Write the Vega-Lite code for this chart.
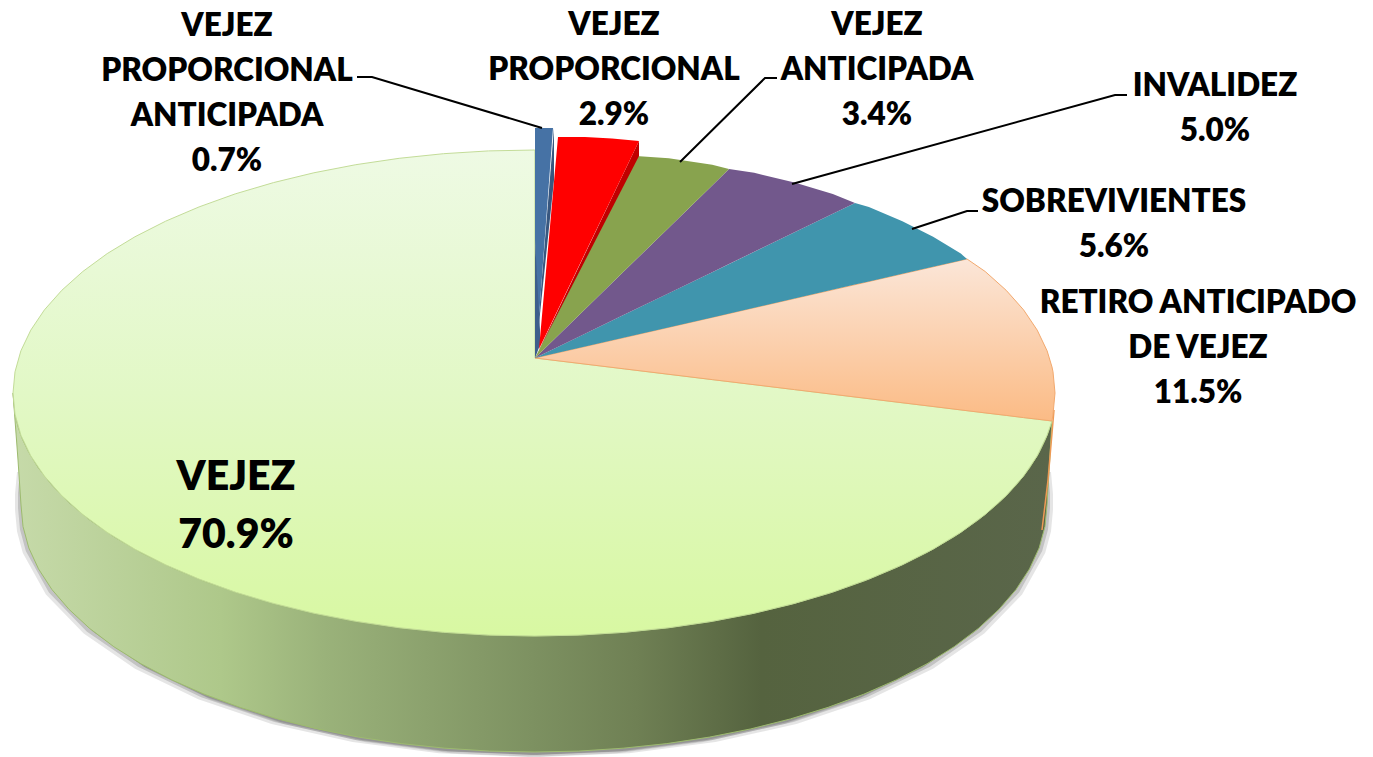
{"$schema":"https://vega.github.io/schema/vega-lite/v6.json","width":1373,"height":757,"padding":0,"autosize":{"type":"none"},"background":"white","config":{"view":{"stroke":null}},
"datasets":{"outline":[
{"slice":"shadow","x":21,"y":490,"y2":505},{"slice":"shadow","x":23,"y":468,"y2":526.5},{"slice":"shadow","x":28.8,"y":468,"y2":547.9},{"slice":"shadow","x":51.9,"y":470,"y2":589.5},{"slice":"shadow","x":89.7,"y":470,"y2":628.5},{"slice":"shadow","x":141,"y":470,"y2":663.8},{"slice":"shadow","x":204.2,"y":470,"y2":694.2},{"slice":"shadow","x":277.5,"y":470,"y2":718.9},{"slice":"shadow","x":358.5,"y":470,"y2":737.1},{"slice":"shadow","x":444.9,"y":470,"y2":748.2},{"slice":"shadow","x":534,"y":470,"y2":752},{"slice":"shadow","x":623.1,"y":470,"y2":748.2},{"slice":"shadow","x":709.5,"y":470,"y2":737.1},{"slice":"shadow","x":790.5,"y":470,"y2":718.9},{"slice":"shadow","x":863.8,"y":470,"y2":694.2},{"slice":"shadow","x":927,"y":470,"y2":663.8},{"slice":"shadow","x":978.3,"y":470,"y2":628.5},{"slice":"shadow","x":1016.1,"y":470,"y2":589.5},{"slice":"shadow","x":1039.2,"y":468,"y2":547.9},{"slice":"shadow","x":1045,"y":468,"y2":526.5},{"slice":"shadow","x":1047,"y":490,"y2":505},
{"slice":"side","x":13,"y":393,"y2":393},{"slice":"side","x":15,"y":414,"y2":420},{"slice":"side","x":18,"y":426.6,"y2":460},{"slice":"side","x":21,"y":435.5,"y2":505},{"slice":"side","x":23,"y":440.4,"y2":526.5},{"slice":"side","x":28.8,"y":452.4,"y2":547.9},{"slice":"side","x":38.5,"y":468.1,"y2":568.9},{"slice":"side","x":51.9,"y":485.1,"y2":589.5},{"slice":"side","x":69.1,"y":502.7,"y2":609.4},{"slice":"side","x":89.7,"y":519.9,"y2":628.5},{"slice":"side","x":113.8,"y":536.7,"y2":646.7},{"slice":"side","x":141,"y":552.5,"y2":663.8},{"slice":"side","x":171.3,"y":567.4,"y2":679.7},{"slice":"side","x":204.2,"y":581.1,"y2":694.2},{"slice":"side","x":239.8,"y":593.5,"y2":707.3},{"slice":"side","x":277.5,"y":604.5,"y2":718.9},{"slice":"side","x":317.2,"y":614,"y2":728.9},{"slice":"side","x":358.5,"y":621.8,"y2":737.1},{"slice":"side","x":401.2,"y":628,"y2":743.6},{"slice":"side","x":444.9,"y":632.4,"y2":748.2},{"slice":"side","x":489.3,"y":635.1,"y2":751.1},{"slice":"side","x":534,"y":636,"y2":752},{"slice":"side","x":578.7,"y":635.1,"y2":751.1},{"slice":"side","x":623.1,"y":632.4,"y2":748.2},{"slice":"side","x":666.8,"y":628,"y2":743.6},{"slice":"side","x":709.5,"y":621.8,"y2":737.1},{"slice":"side","x":750.8,"y":614,"y2":728.9},{"slice":"side","x":790.5,"y":604.5,"y2":718.9},{"slice":"side","x":828.2,"y":593.5,"y2":707.3},{"slice":"side","x":863.8,"y":581.1,"y2":694.2},{"slice":"side","x":896.7,"y":567.4,"y2":679.7},{"slice":"side","x":927,"y":552.5,"y2":663.8},{"slice":"side","x":954.2,"y":536.7,"y2":646.7},{"slice":"side","x":978.3,"y":519.9,"y2":628.5},{"slice":"side","x":998.9,"y":502.7,"y2":609.4},{"slice":"side","x":1016.1,"y":485.1,"y2":589.5},{"slice":"side","x":1029.5,"y":468.1,"y2":568.9},{"slice":"side","x":1039.2,"y":452.4,"y2":547.9},{"slice":"side","x":1045,"y":440.4,"y2":526.5},{"slice":"side","x":1047,"y":435.5,"y2":505},{"slice":"side","x":1052,"y":421,"y2":421},
{"slice":"VEJEZ","x":13,"y":393,"y2":393},{"slice":"VEJEZ","x":15,"y":371.8,"y2":414.2},{"slice":"VEJEZ","x":20.9,"y":350.8,"y2":435.2},{"slice":"VEJEZ","x":30.8,"y":330.1,"y2":455.9},{"slice":"VEJEZ","x":44.4,"y":309.9,"y2":476.1},{"slice":"VEJEZ","x":61.8,"y":290.3,"y2":495.7},{"slice":"VEJEZ","x":82.8,"y":271.5,"y2":514.5},{"slice":"VEJEZ","x":107.2,"y":253.6,"y2":532.4},{"slice":"VEJEZ","x":134.9,"y":236.8,"y2":549.2},{"slice":"VEJEZ","x":165.6,"y":221.2,"y2":564.8},{"slice":"VEJEZ","x":199.1,"y":206.9,"y2":579.1},{"slice":"VEJEZ","x":235.2,"y":193.9,"y2":592.1},{"slice":"VEJEZ","x":273.5,"y":182.6,"y2":603.4},{"slice":"VEJEZ","x":313.8,"y":172.8,"y2":613.2},{"slice":"VEJEZ","x":355.8,"y":164.7,"y2":621.3},{"slice":"VEJEZ","x":399.2,"y":158.3,"y2":627.7},{"slice":"VEJEZ","x":443.5,"y":153.7,"y2":632.3},{"slice":"VEJEZ","x":488.6,"y":150.9,"y2":635.1},{"slice":"VEJEZ","x":534.9,"y":150,"y2":636},{"slice":"VEJEZ","x":535,"y":358,"y2":636},{"slice":"VEJEZ","x":579.4,"y":363.4,"y2":635.1},{"slice":"VEJEZ","x":624.5,"y":368.9,"y2":632.3},{"slice":"VEJEZ","x":668.8,"y":374.3,"y2":627.7},{"slice":"VEJEZ","x":712.2,"y":379.6,"y2":621.3},{"slice":"VEJEZ","x":754.2,"y":384.7,"y2":613.2},{"slice":"VEJEZ","x":794.5,"y":389.6,"y2":603.4},{"slice":"VEJEZ","x":832.8,"y":394.3,"y2":592.1},{"slice":"VEJEZ","x":868.9,"y":398.7,"y2":579.1},{"slice":"VEJEZ","x":902.4,"y":402.8,"y2":564.8},{"slice":"VEJEZ","x":933.1,"y":406.5,"y2":549.2},{"slice":"VEJEZ","x":960.8,"y":409.9,"y2":532.4},{"slice":"VEJEZ","x":985.2,"y":412.9,"y2":514.5},{"slice":"VEJEZ","x":1006.2,"y":415.4,"y2":495.7},{"slice":"VEJEZ","x":1023.6,"y":417.6,"y2":476.1},{"slice":"VEJEZ","x":1037.2,"y":419.2,"y2":455.9},{"slice":"VEJEZ","x":1047.1,"y":420.4,"y2":435.2},{"slice":"VEJEZ","x":1052,"y":421,"y2":421},
{"slice":"RETIRO","x":535,"y":358,"y2":358},{"slice":"RETIRO","x":624.5,"y":337.5,"y2":368.9},{"slice":"RETIRO","x":712.2,"y":317.4,"y2":379.6},{"slice":"RETIRO","x":794.5,"y":298.5,"y2":389.6},{"slice":"RETIRO","x":868.9,"y":281.5,"y2":398.7},{"slice":"RETIRO","x":933.1,"y":266.8,"y2":406.5},{"slice":"RETIRO","x":967,"y":259,"y2":410.7},{"slice":"RETIRO","x":985.2,"y":271.5,"y2":412.9},{"slice":"RETIRO","x":1006.2,"y":290.3,"y2":415.4},{"slice":"RETIRO","x":1023.6,"y":309.9,"y2":417.6},{"slice":"RETIRO","x":1037.2,"y":330.1,"y2":419.2},{"slice":"RETIRO","x":1047.1,"y":350.8,"y2":420.4},{"slice":"RETIRO","x":1052,"y":367,"y2":421},{"slice":"RETIRO","x":1053,"y":371.8,"y2":414.2},{"slice":"RETIRO","x":1055,"y":393,"y2":393},
{"slice":"SOBREVIVIENTES","x":535,"y":358,"y2":358},{"slice":"SOBREVIVIENTES","x":624.5,"y":314.6,"y2":337.5},{"slice":"SOBREVIVIENTES","x":712.2,"y":272.2,"y2":317.4},{"slice":"SOBREVIVIENTES","x":794.5,"y":232.3,"y2":298.5},{"slice":"SOBREVIVIENTES","x":855,"y":203,"y2":284.6},{"slice":"SOBREVIVIENTES","x":868.9,"y":206.9,"y2":281.5},{"slice":"SOBREVIVIENTES","x":902.4,"y":221.2,"y2":273.8},{"slice":"SOBREVIVIENTES","x":933.1,"y":236.8,"y2":266.8},{"slice":"SOBREVIVIENTES","x":960.8,"y":253.6,"y2":260.4},{"slice":"SOBREVIVIENTES","x":967,"y":259,"y2":259},
{"slice":"INVALIDEZ","x":535,"y":358,"y2":358},{"slice":"INVALIDEZ","x":579.4,"y":314.7,"y2":336.5},{"slice":"INVALIDEZ","x":624.5,"y":270.8,"y2":314.6},{"slice":"INVALIDEZ","x":668.8,"y":227.7,"y2":293.2},{"slice":"INVALIDEZ","x":712.2,"y":185.4,"y2":272.2},{"slice":"INVALIDEZ","x":729,"y":169,"y2":264},{"slice":"INVALIDEZ","x":754.2,"y":172.8,"y2":251.8},{"slice":"INVALIDEZ","x":794.5,"y":182.6,"y2":232.3},{"slice":"INVALIDEZ","x":832.8,"y":193.9,"y2":213.8},{"slice":"INVALIDEZ","x":855,"y":203,"y2":203},
{"slice":"ANTICIPADA","x":535,"y":358,"y2":358},{"slice":"ANTICIPADA","x":579.4,"y":269.2,"y2":314.7},{"slice":"ANTICIPADA","x":624.5,"y":179,"y2":270.8},{"slice":"ANTICIPADA","x":636,"y":156,"y2":259.6},{"slice":"ANTICIPADA","x":668.8,"y":158.3,"y2":227.7},{"slice":"ANTICIPADA","x":712.2,"y":164.7,"y2":185.4},{"slice":"ANTICIPADA","x":729,"y":169,"y2":169},
{"slice":"PROPORCIONAL_side","x":539,"y":350,"y2":350},{"slice":"PROPORCIONAL_side","x":639,"y":141,"y2":156},
{"slice":"PROPORCIONAL","x":539,"y":349,"y2":349},{"slice":"PROPORCIONAL","x":558,"y":137,"y2":309.5},{"slice":"PROPORCIONAL","x":585,"y":137,"y2":253.3},{"slice":"PROPORCIONAL","x":612,"y":138.5,"y2":197.2},{"slice":"PROPORCIONAL","x":639,"y":141,"y2":141},
{"slice":"PROP_ANT_side","x":536,"y":352,"y2":352},{"slice":"PROP_ANT_side","x":554,"y":128,"y2":180},
{"slice":"PROP_ANT_inner","x":535,"y":240,"y2":358},{"slice":"PROP_ANT_inner","x":540,"y":330,"y2":345},
{"slice":"PROP_ANT","x":535,"y":128,"y2":240},{"slice":"PROP_ANT","x":538,"y":128,"y2":330},{"slice":"PROP_ANT","x":553,"y":128,"y2":128},
{"slice":"leader1","x":357,"y":77},{"slice":"leader1","x":372,"y":77},{"slice":"leader1","x":542,"y":128},
{"slice":"leader2","x":777,"y":78},{"slice":"leader2","x":765,"y":78},{"slice":"leader2","x":680,"y":162},
{"slice":"leader3","x":1127,"y":95},{"slice":"leader3","x":1115,"y":95},{"slice":"leader3","x":792,"y":184},
{"slice":"leader4","x":978,"y":211},{"slice":"leader4","x":967,"y":211},{"slice":"leader4","x":912,"y":229},
{"slice":"peach_edge","x":1054,"y":410},{"slice":"peach_edge","x":1048,"y":480},{"slice":"peach_edge","x":1042,"y":530}
],
"labels":[
{"label":"VEJEZ\nPROPORCIONAL\nANTICIPADA\n0.7%","x":227,"y":24,"big":"no"},
{"label":"VEJEZ\nPROPORCIONAL\n2.9%","x":614,"y":23,"big":"no"},
{"label":"VEJEZ\nANTICIPADA\n3.4%","x":877,"y":23,"big":"no"},
{"label":"INVALIDEZ\n5.0%","x":1215,"y":84,"big":"no"},
{"label":"SOBREVIVIENTES\n5.6%","x":1114,"y":200,"big":"no"},
{"label":"RETIRO ANTICIPADO\nDE VEJEZ\n11.5%","x":1198,"y":301,"big":"no"},
{"label":"VEJEZ\n70.9%","x":236,"y":476,"big":"yes"}
]},
"data":{"name":"outline"},
"encoding":{"x":{"field":"x","type":"quantitative","axis":null,"scale":{"domain":[0,1373],"nice":false,"zero":false}},"y":{"field":"y","type":"quantitative","axis":null,"stack":null,"scale":{"domain":[757,0],"nice":false,"zero":false}}},
"layer":[
{"transform":[{"filter":"datum.slice==='shadow'"}],"mark":{"type":"area","orient":"vertical","color":"#000000","opacity":0.1,"xOffset":-6,"yOffset":4,"y2Offset":5},"encoding":{"y2":{"field":"y2"}}},
{"transform":[{"filter":"datum.slice==='shadow'"}],"mark":{"type":"area","orient":"vertical","color":"#000000","opacity":0.15,"xOffset":-3,"yOffset":3,"y2Offset":3},"encoding":{"y2":{"field":"y2"}}},
{"transform":[{"filter":"datum.slice==='shadow'"}],"mark":{"type":"area","orient":"vertical","color":"#000000","opacity":0.1,"xOffset":6,"yOffset":4,"y2Offset":5},"encoding":{"y2":{"field":"y2"}}},
{"transform":[{"filter":"datum.slice==='shadow'"}],"mark":{"type":"area","orient":"vertical","color":"#000000","opacity":0.15,"xOffset":3,"yOffset":3,"y2Offset":3},"encoding":{"y2":{"field":"y2"}}},
{"transform":[{"filter":"datum.slice==='side'"}],"mark":{"type":"area","orient":"vertical","stroke":"#9dbb6e","strokeWidth":1,"fill":{"gradient":"linear","x1":0,"y1":0,"x2":1,"y2":0,"stops":[{"offset":0,"color":"#c6daa9"},{"offset":0.2,"color":"#aec88a"},{"offset":0.3,"color":"#9ab27a"},{"offset":0.5,"color":"#7d9161"},{"offset":0.6,"color":"#6f8054"},{"offset":0.72,"color":"#55633f"},{"offset":1,"color":"#5a664a"}]}},"encoding":{"y2":{"field":"y2"}}},
{"transform":[{"filter":"datum.slice==='peach_edge'"}],"mark":{"type":"line","color":"#ee9a55","strokeWidth":1.5}},
{"transform":[{"filter":"datum.slice==='VEJEZ'"}],"mark":{"type":"area","orient":"vertical","stroke":"#c3dc98","strokeWidth":1,"fill":{"gradient":"linear","x1":0,"y1":0,"x2":0,"y2":1,"stops":[{"offset":0,"color":"#eefae4"},{"offset":0.5,"color":"#e2f8c6"},{"offset":1,"color":"#d8f8a2"}]}},"encoding":{"y2":{"field":"y2"}}},
{"transform":[{"filter":"datum.slice==='RETIRO'"}],"mark":{"type":"area","orient":"vertical","stroke":"#f2a96e","strokeWidth":1,"fill":{"gradient":"linear","x1":0,"y1":0,"x2":0,"y2":1,"stops":[{"offset":0,"color":"#fbe6d8"},{"offset":1,"color":"#fbbb85"}]}},"encoding":{"y2":{"field":"y2"}}},
{"transform":[{"filter":"datum.slice==='SOBREVIVIENTES'"}],"mark":{"type":"area","orient":"vertical","color":"#4095ad"},"encoding":{"y2":{"field":"y2"}}},
{"transform":[{"filter":"datum.slice==='INVALIDEZ'"}],"mark":{"type":"area","orient":"vertical","color":"#72588c"},"encoding":{"y2":{"field":"y2"}}},
{"transform":[{"filter":"datum.slice==='ANTICIPADA'"}],"mark":{"type":"area","orient":"vertical","color":"#88a34e"},"encoding":{"y2":{"field":"y2"}}},
{"transform":[{"filter":"datum.slice==='PROP_ANT_side'"}],"mark":{"type":"area","orient":"vertical","color":"#38577f"},"encoding":{"y2":{"field":"y2"}}},
{"transform":[{"filter":"datum.slice==='PROP_ANT'"}],"mark":{"type":"area","orient":"vertical","color":"#4672a5"},"encoding":{"y2":{"field":"y2"}}},
{"transform":[{"filter":"datum.slice==='PROP_ANT_inner'"}],"mark":{"type":"area","orient":"vertical","color":"#3d5f8c"},"encoding":{"y2":{"field":"y2"}}},
{"transform":[{"filter":"datum.slice==='PROPORCIONAL_side'"}],"mark":{"type":"area","orient":"vertical","color":"#c00000"},"encoding":{"y2":{"field":"y2"}}},
{"transform":[{"filter":"datum.slice==='PROPORCIONAL'"}],"mark":{"type":"area","orient":"vertical","color":"#ff0000"},"encoding":{"y2":{"field":"y2"}}},
{"transform":[{"filter":"indexof(datum.slice,'leader')===0"}],"mark":{"type":"line","color":"#000000","strokeWidth":2},"encoding":{"detail":{"field":"slice"},"order":{"field":"none"}}},
{"data":{"name":"labels"},"transform":[{"filter":"datum.big==='no'"}],"mark":{"type":"text","font":"Lato","fontWeight":800,"fontSize":31.5,"align":"center","baseline":"middle","dy":2.5,"lineBreak":"\n","lineHeight":45.3,"color":"#000000"},"encoding":{"text":{"field":"label"}}},
{"data":{"name":"labels"},"transform":[{"filter":"datum.big==='yes'"}],"mark":{"type":"text","font":"Lato","fontWeight":800,"fontSize":41,"align":"center","baseline":"middle","dy":2,"lineBreak":"\n","lineHeight":58,"color":"#000000"},"encoding":{"text":{"field":"label"}}}
]}
